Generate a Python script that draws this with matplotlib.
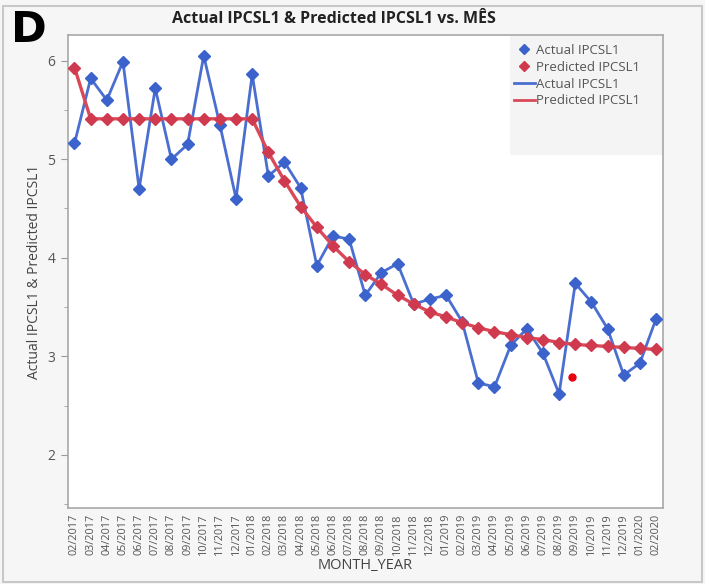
import matplotlib
matplotlib.use("Agg")
import matplotlib.pyplot as plt
from matplotlib.lines import Line2D
from matplotlib.patches import Rectangle

months = ["02/2017", "03/2017", "04/2017", "05/2017", "06/2017", "07/2017", "08/2017",
          "09/2017", "10/2017", "11/2017", "12/2017", "01/2018", "02/2018", "03/2018",
          "04/2018", "05/2018", "06/2018", "07/2018", "08/2018", "09/2018", "10/2018",
          "11/2018", "12/2018", "01/2019", "02/2019", "03/2019", "04/2019", "05/2019",
          "06/2019", "07/2019", "08/2019", "09/2019", "10/2019", "11/2019", "12/2019",
          "01/2020", "02/2020"]

actual = [5.16, 5.82, 5.60, 5.99, 4.70, 5.72, 5.00, 5.15, 6.05, 5.35, 4.60, 5.86,
          4.83, 4.97, 4.71, 3.92, 4.22, 4.19, 3.62, 3.85, 3.94, 3.53, 3.58, 3.62,
          3.35, 2.73, 2.69, 3.11, 3.28, 3.03, 2.62, 3.74, 3.55, 3.28, 2.81, 2.93, 3.38]

predicted = [5.93, 5.41, 5.41, 5.41, 5.41, 5.41, 5.41, 5.41, 5.41, 5.41, 5.41, 5.41,
             5.07, 4.78, 4.52, 4.31, 4.12, 3.96, 3.83, 3.73, 3.62, 3.53, 3.45, 3.40,
             3.34, 3.29, 3.25, 3.22, 3.19, 3.17, 3.14, 3.12, 3.11, 3.10, 3.09, 3.08, 3.07]

stray_x = [30.8]
stray_y = [2.79]

yticks = [2, 3, 4, 5, 6]

BLUE = "#4a6fd0"
BLUE_M = "#3c63cc"
RED = "#d9495a"
RED_M = "#d03a4f"
FONT = ["Open Sans", "DejaVu Sans"]

plt.rcParams["font.family"] = FONT

fig = plt.figure(figsize=(7.05, 5.84), dpi=100, facecolor="#f6f6f6")
ax = fig.add_axes([0.0965, 0.130, 0.8439, 0.810])
ax.set_facecolor("white")

x = list(range(len(months)))
ax.plot(x, actual, color=BLUE, lw=2.0, marker="D", ms=6, mfc=BLUE_M, mec=BLUE_M, zorder=3)
ax.plot(x, predicted, color=RED, lw=2.4, marker="D", ms=6, mfc=RED_M, mec=RED_M, zorder=4)
ax.plot(stray_x, stray_y, "o", color="#e80010", ms=5, zorder=5)

ax.set_xlim(-0.4, len(months) - 1 + 0.43)
ax.set_ylim(1.46, 6.26)
ax.set_xticks(x)
ax.set_xticklabels(months, rotation=90, fontsize=7.8, color="#555555")
ax.set_yticks(yticks)
ax.set_yticklabels([str(v) for v in yticks], fontsize=10, color="#555555")
ax.set_yticks([1.5 + i for i in range(5)], minor=True)
ax.tick_params(axis="y", which="major", length=5, color="#999999", pad=4)
ax.tick_params(axis="y", which="minor", length=3, color="#999999")
ax.tick_params(axis="x", length=0, pad=4)
for s in ax.spines.values():
    s.set_color("#a8a8a8")
    s.set_linewidth(1.2)

ax.set_xlabel("MONTH_YEAR", fontsize=10.5, color="#444444", labelpad=2)
ax.set_ylabel("Actual IPCSL1 & Predicted IPCSL1", fontsize=10, color="#444444", labelpad=4)

# legend background
ax.add_patch(Rectangle((0.743, 0.746), 0.257, 0.254, transform=ax.transAxes,
                       facecolor="#f4f4f4", edgecolor="none", zorder=1))
handles = [
    Line2D([], [], ls="none", marker="D", ms=5, color=BLUE_M),
    Line2D([], [], ls="none", marker="D", ms=5, color=RED_M),
    Line2D([], [], color=BLUE, lw=2),
    Line2D([], [], color=RED, lw=2),
]
labels = ["Actual IPCSL1", "Predicted IPCSL1", "Actual IPCSL1", "Predicted IPCSL1"]
leg = ax.legend(handles, labels, loc="upper left", bbox_to_anchor=(0.735, 1.0),
                frameon=False, fontsize=9.5, handlelength=1.6, handletextpad=0.1,
                labelspacing=0.3, borderaxespad=0.25)
for t in leg.get_texts():
    t.set_color("#555555")
leg.set_zorder(6)

fig.text(0.474, 0.968, "Actual IPCSL1 & Predicted IPCSL1 vs. MÊS", ha="center", va="center",
         fontsize=11.5, fontweight="bold", color="#222222")
fig.text(0.016, 0.948, "D", ha="left", va="center", fontsize=31, fontweight="bold",
         color="black", family=["DejaVu Sans"])

# outer frame
fig.add_artist(Rectangle((0.004, 0.004), 0.992, 0.986, transform=fig.transFigure,
                         facecolor="none", edgecolor="#c8c8c8", lw=1.5))

fig.savefig("out.png", dpi=100, facecolor=fig.get_facecolor())
